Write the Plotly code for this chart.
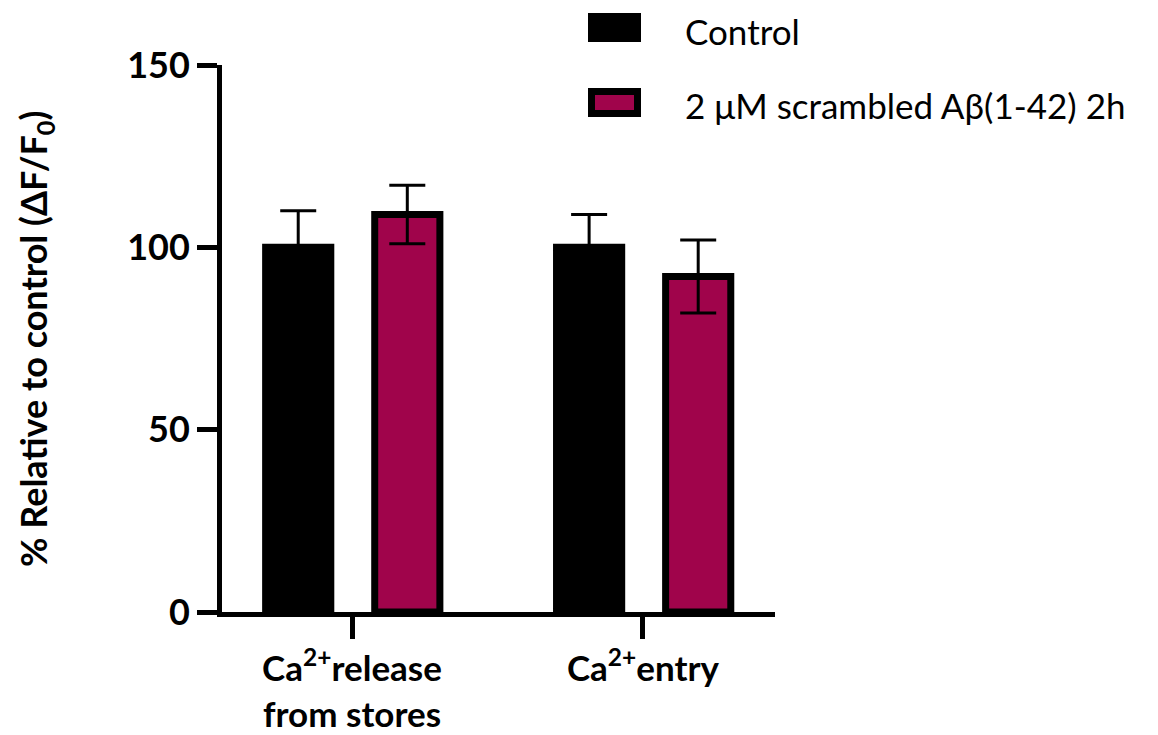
import plotly.graph_objects as go

categories = ["Ca<sup>2+</sup>release<br>from stores", "Ca<sup>2+</sup>entry"]
series_names = ["Control", "2 \u03bcM scrambled A\u03b2(1-42) 2h"]
control_values = [100, 100]
control_errors = [10, 9]
scrambled_values = [109, 92]
scrambled_errors = [8, 10]
colors = ["#000000", "#A0044B"]
y_ticks = [0, 50, 100, 150]

# page body has an 8px margin; size the figure so it ends at the window edge
SH = 8
W, H = 1158 - SH, 735 - SH
L_ref, T_ref = 222, 65
pw, ph = 553, 547
L, T = L_ref - SH, T_ref - SH
R, B = W - L - pw, H - T - ph

def px(x):
    return (x - L_ref) / pw

def py(y):
    return (T_ref + ph - y) / ph

fig = go.Figure()
bar_width = 0.224
offsets = [-0.297, 0.078]
for name, vals, errs, col, off in zip(series_names,
                                      [control_values, scrambled_values],
                                      [control_errors, scrambled_errors],
                                      colors, offsets):
    fig.add_trace(go.Bar(
        x=categories, y=vals, name=name,
        width=bar_width, offset=off,
        marker=dict(color=col, line=dict(color="black", width=7)),
        error_y=dict(type="data", array=errs, visible=True,
                     color="black", thickness=3, width=18),
        showlegend=False,
    ))

font_fam = "Lato, Open Sans, sans-serif"
fig.update_layout(
    width=W, height=H,
    margin=dict(l=L, r=R, t=T, b=B, pad=0, autoexpand=False),
    paper_bgcolor="white", plot_bgcolor="white",
    barmode="overlay",
    font=dict(family=font_fam, color="black"),
    xaxis=dict(
        type="category", range=[-0.447, 1.454], automargin=False,
        showline=True, linecolor="black", linewidth=5,
        ticks="outside", ticklen=22, tickwidth=5, tickcolor="black",
        showgrid=False, zeroline=False,
        tickfont=dict(size=35, family=font_fam, weight="bold"),
    ),
    yaxis=dict(
        range=[0, 150], tickvals=y_ticks, automargin=False,
        showline=True, linecolor="black", linewidth=5,
        ticks="outside", ticklen=20, tickwidth=5, tickcolor="black",
        showgrid=False, zeroline=False,
        tickfont=dict(size=36, family=font_fam, weight="bold"),
    ),
)

# y-axis title
fig.add_annotation(
    xref="paper", yref="paper", x=px(35), y=py(339),
    text="% Relative to control (\u0394F/F<sub>0</sub>)",
    textangle=-90, showarrow=False, xanchor="center", yanchor="middle",
    font=dict(size=36, family=font_fam, weight="bold", color="black"),
)

# legend
legend_rows = [(16.5, 38.5, 31), (91.5, 113.5, 105)]
for (y0, y1, yc), name, col in zip(legend_rows, series_names, colors):
    fig.add_shape(type="rect", xref="paper", yref="paper",
                  x0=px(591.5), x1=px(637.5), y0=py(y1), y1=py(y0),
                  fillcolor=col, line=dict(color="black", width=7))
    fig.add_annotation(xref="paper", yref="paper", x=px(683), y=py(yc),
                       text=name, showarrow=False, xanchor="left", yanchor="middle",
                       font=dict(size=35, family=font_fam, color="black"))

fig.write_html("out.html")
